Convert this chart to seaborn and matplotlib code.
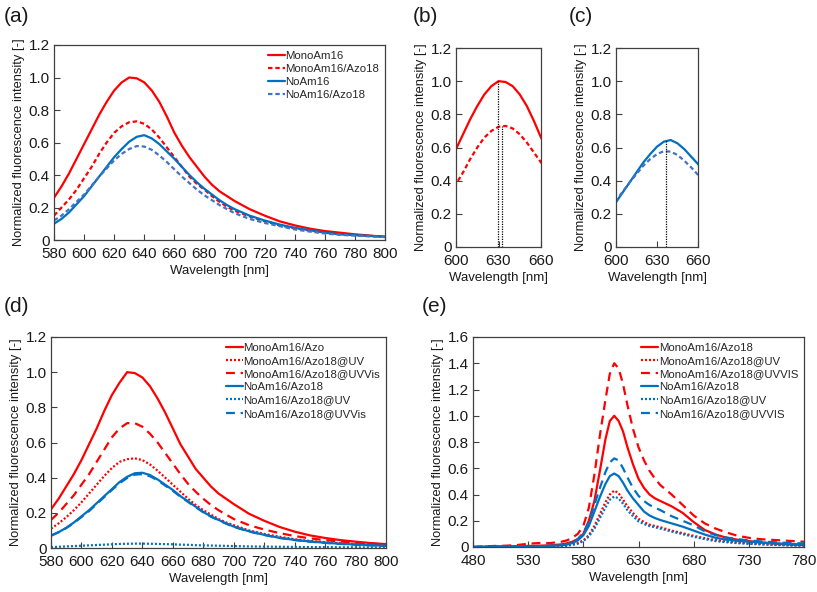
import matplotlib
matplotlib.use('Agg')
import matplotlib.pyplot as plt
from matplotlib.ticker import FuncFormatter
import seaborn as sns
import numpy as np

sns.set_theme(style='white')
plt.rcParams['font.family'] = ['Liberation Sans', 'DejaVu Sans']

# ---- data ----
wl = [580, 585, 590, 595, 600, 605, 610, 615, 620, 625, 630, 635, 640, 645, 650,
      655, 660, 665, 670, 675, 680, 685, 690, 695, 700, 710, 720, 730, 740, 750,
      760, 770, 780, 790, 800]

# (a)-(c)
a_mono = [0.26, 0.33, 0.41, 0.50, 0.59, 0.68, 0.77, 0.85, 0.92, 0.97, 1.00, 0.995, 0.97, 0.92, 0.85,
          0.76, 0.66, 0.58, 0.51, 0.45, 0.39, 0.34, 0.30, 0.27, 0.24, 0.19, 0.15, 0.115, 0.09, 0.07,
          0.055, 0.045, 0.035, 0.027, 0.02]
a_mono_azo = [0.15, 0.20, 0.25, 0.31, 0.38, 0.45, 0.53, 0.60, 0.66, 0.70, 0.725, 0.73, 0.715, 0.68, 0.63,
              0.57, 0.51, 0.45, 0.39, 0.345, 0.31, 0.27, 0.235, 0.205, 0.18, 0.145, 0.115, 0.09, 0.072, 0.058,
              0.047, 0.038, 0.031, 0.025, 0.02]
a_no = [0.10, 0.13, 0.17, 0.22, 0.27, 0.33, 0.39, 0.45, 0.51, 0.56, 0.605, 0.635, 0.645, 0.625, 0.59,
        0.545, 0.50, 0.45, 0.40, 0.355, 0.315, 0.28, 0.245, 0.215, 0.19, 0.15, 0.12, 0.095, 0.075, 0.06,
        0.045, 0.035, 0.03, 0.025, 0.02]
a_no_azo = [0.12, 0.15, 0.19, 0.235, 0.28, 0.335, 0.39, 0.44, 0.49, 0.53, 0.56, 0.578, 0.575, 0.555, 0.52,
            0.48, 0.435, 0.39, 0.35, 0.31, 0.275, 0.245, 0.215, 0.19, 0.165, 0.13, 0.105, 0.085, 0.065, 0.052,
            0.04, 0.032, 0.027, 0.022, 0.018]
peaks_b = [629.5, 632.5]
peaks_c = [636.5]

# (d)
d_mono = [0.22, 0.28, 0.35, 0.42, 0.50, 0.59, 0.68, 0.78, 0.87, 0.94, 1.00, 0.995, 0.97, 0.92, 0.85,
          0.77, 0.68, 0.59, 0.52, 0.45, 0.40, 0.35, 0.31, 0.28, 0.25, 0.195, 0.155, 0.12, 0.093, 0.072,
          0.057, 0.045, 0.036, 0.028, 0.022]
d_mono_uv = [0.11, 0.14, 0.175, 0.215, 0.26, 0.31, 0.36, 0.41, 0.455, 0.49, 0.505, 0.51, 0.50, 0.475, 0.44,
             0.40, 0.36, 0.32, 0.28, 0.245, 0.215, 0.19, 0.165, 0.145, 0.13, 0.10, 0.08, 0.064, 0.05, 0.04,
             0.033, 0.027, 0.022, 0.018, 0.015]
d_mono_uvvis = [0.16, 0.20, 0.25, 0.30, 0.36, 0.42, 0.49, 0.56, 0.63, 0.68, 0.71, 0.71, 0.69, 0.65, 0.60,
                0.54, 0.48, 0.42, 0.365, 0.32, 0.28, 0.245, 0.215, 0.19, 0.165, 0.13, 0.105, 0.085, 0.068, 0.055,
                0.045, 0.037, 0.03, 0.025, 0.02]
d_no = [0.07, 0.09, 0.115, 0.145, 0.18, 0.215, 0.255, 0.295, 0.335, 0.375, 0.405, 0.425, 0.428, 0.415, 0.39,
        0.36, 0.33, 0.295, 0.265, 0.235, 0.205, 0.18, 0.16, 0.14, 0.122, 0.095, 0.075, 0.058, 0.046, 0.037,
        0.03, 0.024, 0.02, 0.016, 0.013]
d_no_uv = [0.005, 0.007, 0.009, 0.011, 0.013, 0.015, 0.017, 0.019, 0.021, 0.023, 0.024, 0.025, 0.025, 0.024, 0.023,
           0.022, 0.021, 0.019, 0.018, 0.016, 0.015, 0.014, 0.013, 0.012, 0.011, 0.009, 0.008, 0.007, 0.006, 0.005,
           0.005, 0.004, 0.004, 0.003, 0.003]
d_no_uvvis = [0.07, 0.09, 0.113, 0.142, 0.176, 0.21, 0.25, 0.29, 0.33, 0.368, 0.398, 0.417, 0.42, 0.408, 0.385,
              0.355, 0.325, 0.292, 0.262, 0.232, 0.203, 0.178, 0.158, 0.138, 0.12, 0.094, 0.074, 0.057, 0.045, 0.036,
              0.029, 0.023, 0.019, 0.015, 0.012]

# (e)
wl_e = [480, 490, 500, 510, 520, 530, 540, 550, 560, 565, 570, 575, 580, 585, 590, 595, 600,
        604, 608, 612, 616, 620, 625, 630, 635, 640, 645, 650, 660, 670, 680, 690, 700, 710,
        720, 730, 740, 750, 760, 770, 780]
e_mono = [0.0, 0.002, 0.004, 0.005, 0.006, 0.008, 0.01, 0.013, 0.02, 0.028, 0.04, 0.06, 0.10, 0.20, 0.35, 0.58, 0.82,
          0.96, 1.0, 0.96, 0.88, 0.76, 0.63, 0.52, 0.45, 0.40, 0.37, 0.35, 0.31, 0.26, 0.19, 0.13, 0.095, 0.07,
          0.055, 0.045, 0.035, 0.028, 0.022, 0.018, 0.015]
e_mono_uv = [0.0, 0.001, 0.002, 0.003, 0.004, 0.005, 0.006, 0.007, 0.008, 0.012, 0.02, 0.03, 0.05, 0.09, 0.16, 0.25, 0.34,
             0.40, 0.43, 0.41, 0.36, 0.31, 0.26, 0.215, 0.19, 0.17, 0.16, 0.15, 0.125, 0.105, 0.085, 0.067, 0.053, 0.042,
             0.034, 0.028, 0.023, 0.019, 0.016, 0.013, 0.011]
e_mono_uvvis = [0.0, 0.005, 0.008, 0.01, 0.015, 0.025, 0.03, 0.03, 0.04, 0.05, 0.07, 0.10, 0.16, 0.30, 0.55, 0.85, 1.12,
                1.32, 1.40, 1.36, 1.24, 1.08, 0.90, 0.76, 0.66, 0.58, 0.52, 0.47, 0.40, 0.32, 0.24, 0.18, 0.14, 0.11,
                0.085, 0.07, 0.06, 0.055, 0.05, 0.045, 0.04]
e_no = [0.0, 0.001, 0.002, 0.003, 0.004, 0.005, 0.006, 0.008, 0.012, 0.018, 0.03, 0.05, 0.09, 0.16, 0.27, 0.38, 0.48,
        0.54, 0.56, 0.54, 0.49, 0.43, 0.37, 0.32, 0.27, 0.24, 0.22, 0.205, 0.18, 0.155, 0.125, 0.095, 0.07, 0.055,
        0.046, 0.04, 0.035, 0.03, 0.026, 0.022, 0.02]
e_no_uv = [0.0, 0.001, 0.002, 0.002, 0.003, 0.004, 0.005, 0.006, 0.006, 0.01, 0.016, 0.025, 0.045, 0.08, 0.14, 0.22, 0.30,
           0.36, 0.385, 0.37, 0.33, 0.28, 0.235, 0.195, 0.175, 0.16, 0.15, 0.14, 0.118, 0.098, 0.078, 0.06, 0.045, 0.036,
           0.029, 0.024, 0.02, 0.017, 0.014, 0.012, 0.01]
e_no_uvvis = [0.0, 0.001, 0.002, 0.003, 0.004, 0.005, 0.007, 0.01, 0.015, 0.022, 0.035, 0.06, 0.11, 0.19, 0.32, 0.45, 0.57,
              0.645, 0.675, 0.66, 0.60, 0.53, 0.45, 0.39, 0.35, 0.32, 0.30, 0.28, 0.235, 0.20, 0.165, 0.12, 0.09, 0.072,
              0.06, 0.05, 0.043, 0.038, 0.033, 0.03, 0.027]

# ---- styles ----
RED = '#FF0000'
BLUE = '#0070C0'
BLUE2 = '#4472C4'
SOLID = '-'
DASH_A = (0, (2.0, 1.3))
DASH = (0, (4.0, 2.6))
DOT = (0, (0.9, 0.9))
LW = 1.6

W, H = 817, 592
fig = plt.figure(figsize=(W / 100, H / 100), dpi=100)


def add_ax(left, top, right, bottom):
    return fig.add_axes([left / W, 1 - bottom / H, (right - left) / W, (bottom - top) / H])


def style_ax(ax, xlim, xticks, ylim, yticks):
    ax.set_xlim(*xlim)
    ax.set_ylim(*ylim)
    ax.set_xticks(xticks)
    ax.set_yticks(yticks)
    ax.yaxis.set_major_formatter(FuncFormatter(lambda v, p: '0' if abs(v) < 1e-9 else f'{v:.1f}'))
    ax.tick_params(direction='in', length=4, width=0.8, color='#404040', labelcolor='#1a1a1a',
                   labelsize=11, left=True, bottom=True, top=False, right=False)
    ax.tick_params(axis='x', pad=5)
    ax.tick_params(axis='y', pad=3)
    for s in ax.spines.values():
        s.set_color('#404040')
        s.set_linewidth(0.9)
    ax.set_xlabel('Wavelength [nm]', fontsize=9.5, labelpad=3, color='#1a1a1a')
    ax.set_ylabel('Normalized fluorescence intensity [-]', fontsize=9.3, labelpad=3, color='#1a1a1a')


def line(ax, x, y, color, ls, label=None):
    sns.lineplot(x=x, y=y, ax=ax, color=color, linestyle=ls, linewidth=LW, label=label, errorbar=None)


def legend(ax):
    ax.legend(loc='upper right', frameon=False, fontsize=8.2, handlelength=1.5, handletextpad=0.05,
              labelspacing=0.28, borderaxespad=0.3, borderpad=0.2)


# (a)
ax_a = add_ax(54, 45, 385, 240)
line(ax_a, wl, a_mono, RED, SOLID, 'MonoAm16')
line(ax_a, wl, a_mono_azo, RED, DASH_A, 'MonoAm16/Azo18')
line(ax_a, wl, a_no, BLUE, SOLID, 'NoAm16')
line(ax_a, wl, a_no_azo, BLUE2, DASH_A, 'NoAm16/Azo18')
style_ax(ax_a, (580, 800), range(580, 801, 20), (0, 1.2), np.arange(0, 1.21, 0.2))
legend(ax_a)

# (b)
ax_b = add_ax(456, 48, 541, 247)
line(ax_b, wl, a_mono, RED, SOLID)
line(ax_b, wl, a_mono_azo, RED, DASH_A)
ax_b.vlines(peaks_b, 0, [max(a_mono), max(a_mono_azo)], colors='black', linestyles=(0, (1, 1)), linewidth=0.9)
style_ax(ax_b, (600, 660), [600, 630, 660], (0, 1.2), np.arange(0, 1.21, 0.2))

# (c)
ax_c = add_ax(616, 48, 698, 247)
line(ax_c, wl, a_no, BLUE, SOLID)
line(ax_c, wl, a_no_azo, BLUE2, DASH_A)
ax_c.vlines(peaks_c, 0, [max(a_no)], colors='black', linestyles=(0, (1, 1)), linewidth=0.9)
style_ax(ax_c, (600, 660), [600, 630, 660], (0, 1.2), np.arange(0, 1.21, 0.2))

# (d)
ax_d = add_ax(51, 337, 386, 548)
line(ax_d, wl, d_mono, RED, SOLID, 'MonoAm16/Azo')
line(ax_d, wl, d_mono_uv, RED, DOT, 'MonoAm16/Azo18@UV')
line(ax_d, wl, d_mono_uvvis, RED, DASH, 'MonoAm16/Azo18@UVVis')
line(ax_d, wl, d_no, BLUE, SOLID, 'NoAm16/Azo18')
line(ax_d, wl, d_no_uv, BLUE, DOT, 'NoAm16/Azo18@UV')
line(ax_d, wl, d_no_uvvis, BLUE, DASH, 'NoAm16/Azo18@UVVis')
style_ax(ax_d, (580, 800), range(580, 801, 20), (0, 1.2), np.arange(0, 1.21, 0.2))
legend(ax_d)

# (e)
ax_e = add_ax(473, 337, 804, 547)
line(ax_e, wl_e, e_mono, RED, SOLID, 'MonoAm16/Azo18')
line(ax_e, wl_e, e_mono_uv, RED, DOT, 'MonoAm16/Azo18@UV')
line(ax_e, wl_e, e_mono_uvvis, RED, DASH, 'MonoAm16/Azo18@UVVIS')
line(ax_e, wl_e, e_no, BLUE, SOLID, 'NoAm16/Azo18')
line(ax_e, wl_e, e_no_uv, BLUE, DOT, 'NoAm16/Azo18@UV')
line(ax_e, wl_e, e_no_uvvis, BLUE, DASH, 'NoAm16/Azo18@UVVIS')
style_ax(ax_e, (480, 780), range(480, 781, 50), (0, 1.6), np.arange(0, 1.61, 0.2))
legend(ax_e)

# panel labels
for txt, x, y in [('(a)', 4, 17), ('(b)', 413, 17), ('(c)', 569, 17), ('(d)', 4, 307), ('(e)', 422, 307)]:
    fig.text(x / W, 1 - y / H, txt, fontsize=15, va='center', ha='left', color='#1a1a1a')

fig.savefig('out.png', dpi=100)
